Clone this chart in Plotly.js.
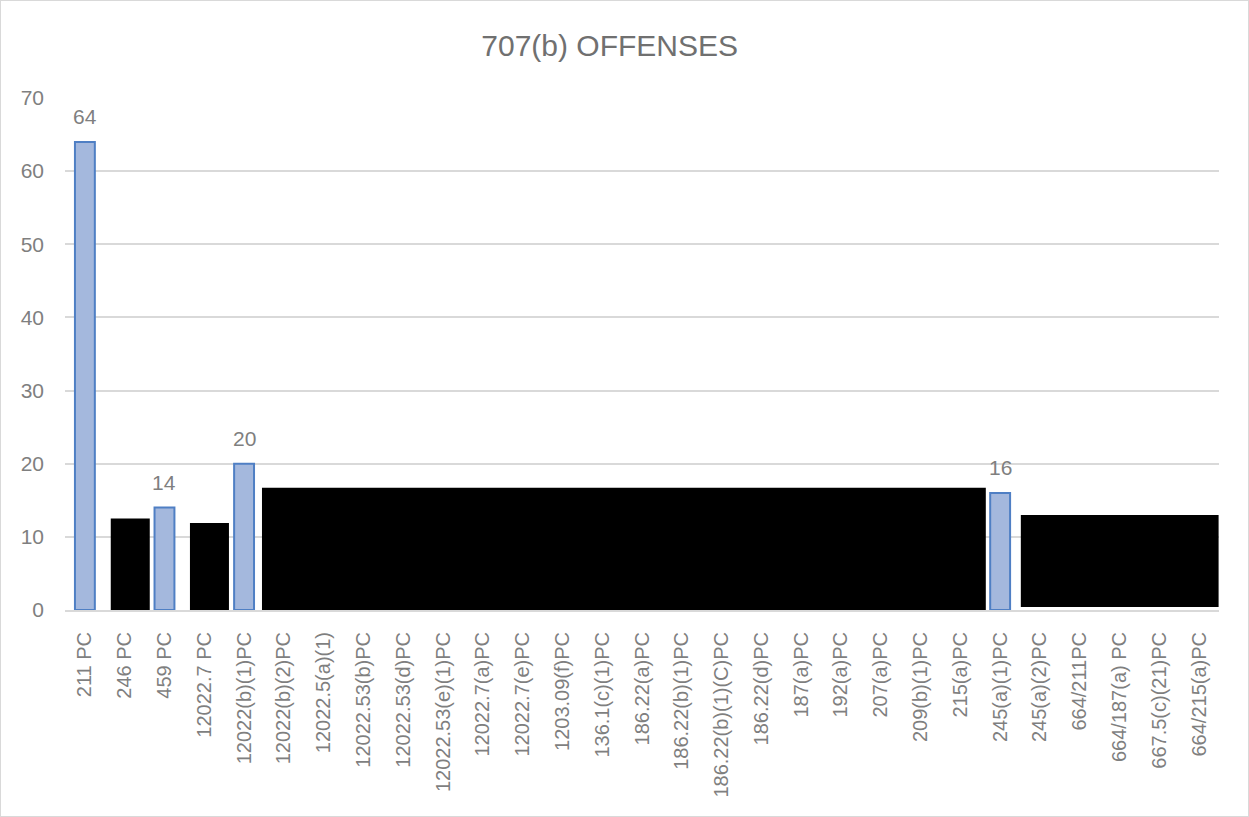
<!DOCTYPE html>
<html>
<head>
<meta charset="utf-8">
<script src="https://cdn.plot.ly/plotly-3.0.1.min.js"></script>
<style>
  html, body { margin: 0; padding: 0; background: #ffffff; }
  #chart { width: 1247px; height: 815px; border: 1px solid #d9d9d9; }
</style>
</head>
<body>
<div id="chart"></div>
<script>
// Categories (offense codes)
const categories = [
  "211 PC", "246 PC", "459 PC", "12022.7 PC", "12022(b)(1)PC", "12022(b)(2)PC",
  "12022.5(a)(1)", "12022.53(b)PC", "12022.53(d)PC", "12022.53(e)(1)PC",
  "12022.7(a)PC", "12022.7(e)PC", "1203.09(f)PC", "136.1(c)(1)PC", "186.22(a)PC",
  "186.22(b)(1)PC", "186.22(b)(1)(C)PC", "186.22(d)PC", "187(a)PC", "192(a)PC",
  "207(a)PC", "209(b)(1)PC", "215(a)PC", "245(a)(1)PC", "245(a)(2)PC",
  "664/211PC", "664/187(a) PC", "667.5(c)(21)PC", "664/215(a)PC"
];

// Visible values (null = value hidden under a redaction box in the source)
const counts = [
  64, null, 14, null, 20, null,
  null, null, null, null,
  null, null, null, null, null,
  null, null, null, null, null,
  null, null, null, 16, null,
  null, null, null, null
];

// Redaction boxes in the source image: first/last covered category, bottom/top value
const redactFrom   = ["246 PC", "12022.7 PC", "12022(b)(2)PC", "245(a)(2)PC"];
const redactTo     = ["246 PC", "12022.7 PC", "215(a)PC", "664/215(a)PC"];
const redactBottom = [-0.1, -0.8, -0.1, 0.4];
const redactTop    = [12.5, 11.9, 16.7, 13.0];

const gray = "#7f7f7f";
const font = "Liberation Sans, Arial, sans-serif";

const barTrace = {
  type: "bar",
  x: categories,
  y: counts,
  width: 0.5,
  marker: {
    color: "#a4b8dd",
    line: { color: "#4f7fc4", width: 2 }
  },
  hoverinfo: "x+y",
  showlegend: false
};

const annotations = [];
categories.forEach((c, i) => {
  if (counts[i] !== null) {
    annotations.push({
      x: c, y: counts[i], xref: "x", yref: "y",
      text: String(counts[i]), showarrow: false,
      yanchor: "bottom", yshift: 12,
      font: { family: font, size: 21, color: gray }
    });
  }
});

// Edge offsets of the redaction boxes relative to category slots (visual geometry)
const leftOff  = [-0.35, -0.36, -0.55, -0.48];
const rightOff = [0.63, 0.62, 0.64, 0.49];
const shapes = redactFrom.map((f, k) => ({
  type: "rect", xref: "x", yref: "y",
  x0: categories.indexOf(f) + leftOff[k],
  x1: categories.indexOf(redactTo[k]) + rightOff[k],
  y0: redactBottom[k], y1: redactTop[k],
  fillcolor: "#000000", line: { width: 0 }, layer: "above"
}));

const layout = {
  width: 1247, height: 815,
  margin: { l: 64, r: 29, t: 97, b: 206 },
  paper_bgcolor: "#ffffff",
  plot_bgcolor: "#ffffff",
  font: { family: font, color: gray },
  title: {
    text: "707(b) OFFENSES",
    font: { family: font, size: 30, color: "#707070" },
    x: 0.472, xref: "paper", xanchor: "center",
    y: 0.946, yref: "container", yanchor: "middle"
  },
  xaxis: {
    type: "category",
    tickangle: -90,
    tickfont: { family: font, size: 20, color: gray },
    ticklabelstandoff: 12,
    showgrid: false,
    showline: true, linecolor: "#d9d9d9", linewidth: 2,
    zeroline: false,
    range: [-0.5, categories.length - 0.5]
  },
  yaxis: {
    range: [0, 70],
    dtick: 10,
    tickfont: { family: font, size: 21, color: gray },
    ticklabelstandoff: 20,
    showgrid: true, gridcolor: "#d9d9d9", gridwidth: 1.5,
    zeroline: false,
    showline: false
  },
  annotations: annotations,
  shapes: shapes,
  bargap: 0.5
};

Plotly.newPlot("chart", [barTrace], layout, { displayModeBar: false, responsive: false });
</script>
</body>
</html>
